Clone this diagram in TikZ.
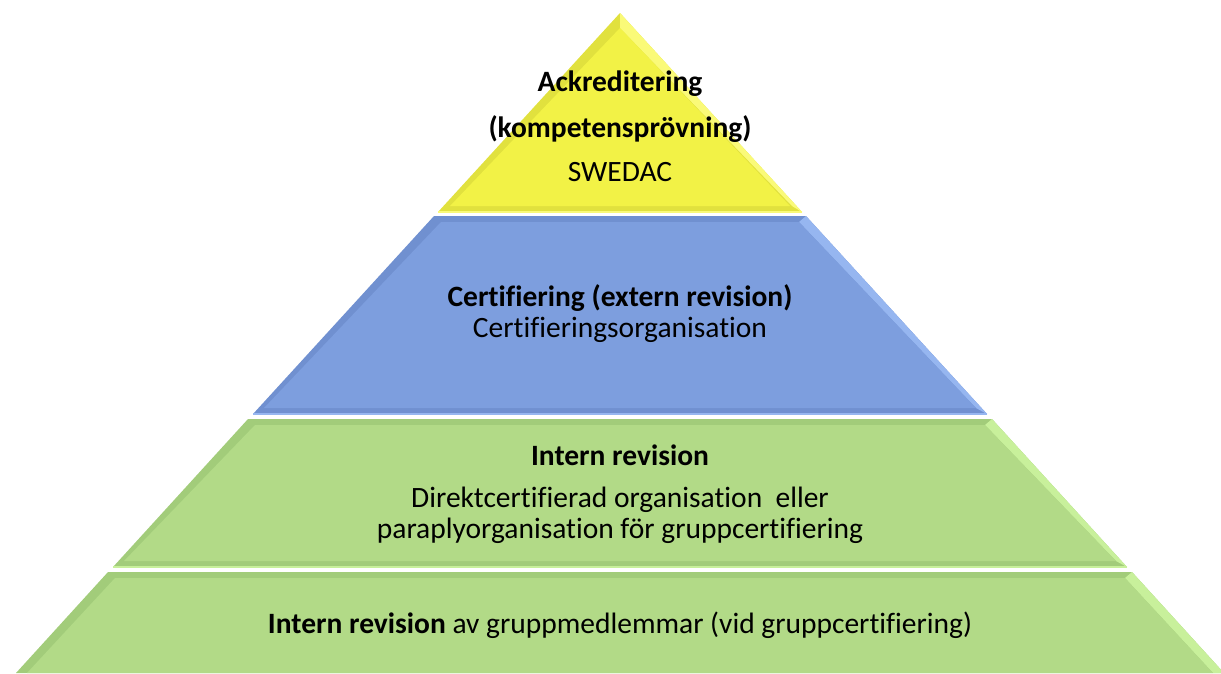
\documentclass[tikz,border=0pt]{standalone}
\usepackage{fontspec}
\setmainfont[Ligatures=NoCommon]{Carlito}
\definecolor{yface}{RGB}{242,242,70}
\definecolor{ybev}{RGB}{225,225,62}
\definecolor{ylight}{RGB}{250,250,120}
\definecolor{bface}{RGB}{125,158,222}
\definecolor{bbev}{RGB}{112,144,208}
\definecolor{blight}{RGB}{150,182,240}
\definecolor{gface}{RGB}{178,218,135}
\definecolor{gbev}{RGB}{162,204,122}
\definecolor{glight}{RGB}{200,240,155}
\begin{document}
\begin{tikzpicture}[x=1pt,y=-1pt,
  lbl/.style={inner sep=0pt,font=\fontsize{29.5}{32}\selectfont},
  blbl/.style={lbl,font=\fontsize{29.5}{32}\selectfont\bfseries}]
\useasboundingbox (0,0) rectangle (1221,673);
\begin{scope}
\clip (0,0) rectangle (1221,673);
% tier 1 (yellow)
\fill[ybev] (620,13) -- (802,212) -- (438,212) -- cycle;
\fill[ylight] (620,13) -- (802,212) -- (792,206) -- (620,28) -- cycle;
\fill[yface] (620,28) -- (790,206) -- (450,206) -- cycle;
\draw[ylight,line width=1.5pt] (438,212) -- (802,212);
% tier 2 (blue)
\fill[bbev] (434,216) -- (806,216) -- (987,414) -- (253,414) -- cycle;
\fill[blight] (806,216) -- (987,414) -- (976,408) -- (799,222) -- cycle;
\fill[bface] (441,222) -- (799,222) -- (976,408) -- (264,408) -- cycle;
\draw[blight,line width=1.5pt] (253,414) -- (987,414);
% tier 3 (green)
\fill[gbev] (248,419) -- (992,419) -- (1127,567) -- (113,567) -- cycle;
\fill[glight] (992,419) -- (1127,567) -- (1116,561) -- (985,425) -- cycle;
\fill[gface] (255,425) -- (985,425) -- (1116,561) -- (124,561) -- cycle;
\draw[glight,line width=1.5pt] (113,567) -- (1127,567);
% tier 4 (green)
\fill[gbev] (108,572) -- (1132,572) -- (1224,673) -- (16,673) -- cycle;
\fill[glight] (1132,572) -- (1224,673) -- (1213,673) -- (1125,578) -- cycle;
\fill[gface] (115,578) -- (1125,578) -- (1213,673) -- (27,673) -- cycle;
\end{scope}
% texts
\node[blbl] (t1a) at (620,84) {Ackreditering};
\node[blbl] (t1b) at (620,129) {(kompetensprövning)};
\node[lbl]  (t1c) at (620,172) {SWEDAC};
\node[blbl] (t2a) at (620,298) {Certifiering (extern revision)};
\node[lbl]  (t2b) at (620,330) {Certifieringsorganisation};
\node[blbl] (t3a) at (620,455) {Intern revision};
\node[lbl]  (t3b) at (620,500) {Direktcertifierad organisation\ \ eller};
\node[lbl]  (t3c) at (620,531) {paraplyorganisation för gruppcertifiering};
\node[lbl]  (t4a) at (620,625) {\textbf{Intern revision} av gruppmedlemmar (vid gruppcertifiering)};
\end{tikzpicture}
\end{document}
